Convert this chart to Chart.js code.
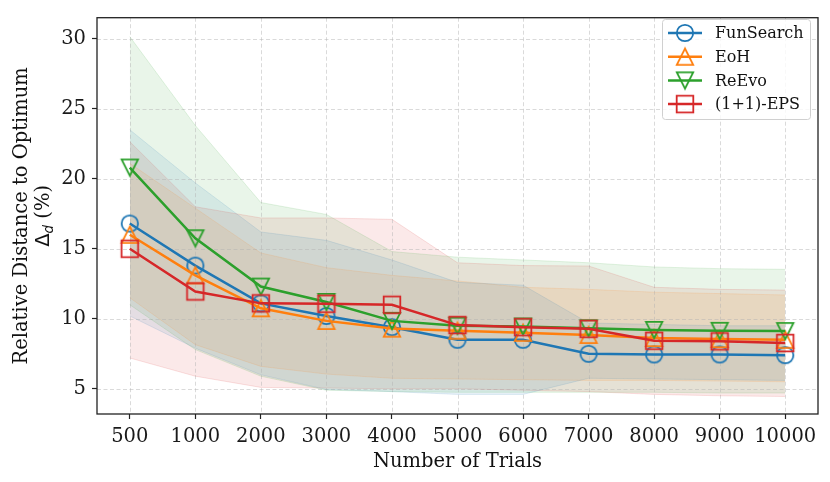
<!DOCTYPE html>
<html>
<head>
<meta charset="utf-8">
<script src="https://cdn.jsdelivr.net/npm/chart.js@4.4.1/dist/chart.umd.min.js"></script>
<style>
	html, body { margin: 0; padding: 0; background: #fff; }
	canvas { display: block; }
</style>
</head>
<body>
<canvas id="chart" width="830" height="482"></canvas>
<script>
var trials = ["500", "1000", "2000", "3000", "4000", "5000", "6000", "7000", "8000", "9000", "10000"];
var yTicks = [5, 10, 15, 20, 25, 30];

var funsearchMean  = [16.8, 13.8, 11.1, 10.2, 9.4, 8.5, 8.5, 7.5, 7.45, 7.45, 7.4];
var funsearchUpper = [23.5, 19.7, 16.2, 15.6, 14.2, 12.6, 12.4, 9.7, 9.6, 9.5, 9.5];
var funsearchLower = [10.2, 7.9, 6.0, 4.95, 4.8, 4.6, 4.6, 5.75, 5.7, 5.65, 5.6];

var eohMean  = [16.0, 13.1, 10.75, 9.85, 9.3, 9.15, 9.0, 8.85, 8.62, 8.55, 8.5];
var eohUpper = [21.1, 17.9, 14.7, 13.65, 13.1, 12.7, 12.25, 12.1, 11.9, 11.8, 11.7];
var eohLower = [11.5, 8.15, 6.6, 6.05, 5.75, 5.7, 5.65, 5.6, 5.6, 5.55, 5.5];

var reevoMean  = [20.8, 15.75, 12.3, 11.2, 9.85, 9.5, 9.45, 9.32, 9.2, 9.14, 9.12];
var reevoUpper = [30.15, 23.8, 18.3, 17.45, 14.8, 14.4, 14.2, 14.0, 13.7, 13.58, 13.53];
var reevoLower = [11.0, 7.8, 5.9, 4.9, 4.8, 4.75, 4.75, 4.75, 4.75, 4.7, 4.7];

var epsMean  = [15.0, 11.95, 11.1, 11.07, 11.0, 9.55, 9.4, 9.28, 8.43, 8.39, 8.27];
var epsUpper = [22.65, 18.0, 17.2, 17.2, 17.1, 14.0, 13.8, 13.77, 12.25, 12.1, 12.05];
var epsLower = [7.2, 5.9, 5.1, 5.05, 5.0, 5.0, 4.9, 4.8, 4.6, 4.5, 4.45];

var methods = [
	{name: "FunSearch",  rgb: "31,119,180", marker: "circle", mean: funsearchMean, upper: funsearchUpper, lower: funsearchLower},
	{name: "EoH",        rgb: "255,127,14", marker: "up",     mean: eohMean,       upper: eohUpper,       lower: eohLower},
	{name: "ReEvo",      rgb: "44,160,44",  marker: "down",   mean: reevoMean,     upper: reevoUpper,     lower: reevoLower},
	{name: "(1+1)-EPS",  rgb: "214,39,40",  marker: "square", mean: epsMean,       upper: epsUpper,       lower: epsLower}
];

var SERIF = '"DejaVu Serif", "Liberation Serif", serif';

//open matplotlib-like markers
function traceMarker(ctx, kind, x, y, s){
	ctx.beginPath();
	if (kind == "circle"){
		ctx.arc(x, y, s, 0, Math.PI * 2);
	}
	else if (kind == "up"){
		ctx.moveTo(x, y - s);
		ctx.lineTo(x - s, y + s);
		ctx.lineTo(x + s, y + s);
		ctx.closePath();
	}
	else if (kind == "down"){
		ctx.moveTo(x, y + s);
		ctx.lineTo(x - s, y - s);
		ctx.lineTo(x + s, y - s);
		ctx.closePath();
	}
	else {
		ctx.rect(x - s, y - s, 2 * s, 2 * s);
	}
}

function markerImage(kind, rgb){
	var c = document.createElement("canvas");
	c.width = 24; c.height = 24;
	var ctx = c.getContext("2d");
	ctx.strokeStyle = "rgb(" + rgb + ")";
	ctx.lineWidth = 1.8;
	traceMarker(ctx, kind, 12, 12, kind == "square" ? 8.3 : 8.2);
	ctx.stroke();
	return c;
}

var datasets = [];
var lineOrder = [3, 2, 1, 0];
methods.forEach(function(m, i){
	m.image = markerImage(m.marker, m.rgb);
	datasets.push({
		label: m.name,
		data: m.mean,
		borderColor: "rgb(" + m.rgb + ")",
		borderWidth: 2.5,
		pointStyle: m.image,
		pointRadius: 8,
		fill: false,
		order: lineOrder[i]
	});
});
methods.forEach(function(m){
	var lowerIndex = datasets.length + 1;
	datasets.push({
		label: m.name + " upper",
		data: m.upper,
		borderColor: "rgba(" + m.rgb + ",0.13)",
		backgroundColor: "rgba(" + m.rgb + ",0.1)",
		borderWidth: 1,
		pointRadius: 0,
		fill: lowerIndex,
		order: 10
	});
	datasets.push({
		label: m.name + " lower",
		data: m.lower,
		borderColor: "rgba(" + m.rgb + ",0.13)",
		borderWidth: 1,
		pointRadius: 0,
		fill: false,
		order: 10
	});
});

var decorPlugin = {
	id: "decor",
	//grid goes over the shaded bands but under the lines
	beforeDatasetsDraw: function(chart){
		var ctx = chart.ctx, a = chart.chartArea;
		var xs = chart.scales.x, ys = chart.scales.y;
		ctx.save();
		ctx.strokeStyle = "rgba(176,176,176,0.6)";
		ctx.lineWidth = 0.8;
		ctx.setLineDash([4, 2.5]);
		for (var i = 0; i < trials.length; i++){
			var x = Math.round(xs.getPixelForTick(i)) + 0.5;
			ctx.beginPath(); ctx.moveTo(x, a.top); ctx.lineTo(x, a.bottom); ctx.stroke();
		}
		for (var j = 0; j < yTicks.length; j++){
			var y = Math.round(ys.getPixelForValue(yTicks[j])) + 0.5;
			ctx.beginPath(); ctx.moveTo(a.left, y); ctx.lineTo(a.right, y); ctx.stroke();
		}
		ctx.restore();
	},
	afterDraw: function(chart){
		var ctx = chart.ctx, a = chart.chartArea;
		var titleFont = "19.5px " + SERIF;
		ctx.save();

		//spines
		ctx.strokeStyle = "#222";
		ctx.lineWidth = 1.3;
		ctx.strokeRect(a.left, a.top, a.right - a.left, a.bottom - a.top);

		//axis titles
		ctx.fillStyle = "#111";
		ctx.font = titleFont;
		ctx.textAlign = "center";
		ctx.textBaseline = "alphabetic";
		ctx.fillText("Number of Trials", (a.left + a.right) / 2, 467);

		var midY = (a.top + a.bottom) / 2;
		ctx.save();
		ctx.translate(27, midY);
		ctx.rotate(-Math.PI / 2);
		ctx.fillText("Relative Distance to Optimum", 0, 0);
		ctx.restore();

		ctx.save();
		ctx.translate(49, midY);
		ctx.rotate(-Math.PI / 2);
		ctx.textAlign = "left";
		var big = '19.5px "DejaVu Sans", sans-serif', sub = 'italic 13.5px "DejaVu Sans", sans-serif';
		ctx.font = big; var wD = ctx.measureText("\u0394").width;
		ctx.font = sub; var wd = ctx.measureText("d").width;
		ctx.font = titleFont; var wp = ctx.measureText(" (%)").width;
		var start = -(wD + wd + wp) / 2;
		ctx.font = big; ctx.fillText("\u0394", start, 0);
		ctx.font = sub; ctx.fillText("d", start + wD, 3.5);
		ctx.font = titleFont; ctx.fillText(" (%)", start + wD + wd, 0);
		ctx.restore();

		//legend
		var lx = 662, ly = 19, lw = 148, lh = 100;
		ctx.beginPath();
		ctx.roundRect(lx + 0.5, ly + 0.5, lw, lh, 3);
		ctx.fillStyle = "rgba(255,255,255,0.8)";
		ctx.fill();
		ctx.strokeStyle = "#d0d0d0";
		ctx.lineWidth = 1;
		ctx.stroke();

		ctx.font = "16px " + SERIF;
		ctx.textAlign = "left";
		ctx.textBaseline = "middle";
		methods.forEach(function(m, i){
			var ry = 33 + i * 23.7;
			ctx.strokeStyle = "rgb(" + m.rgb + ")";
			ctx.lineWidth = 2.5;
			ctx.beginPath(); ctx.moveTo(668, ry); ctx.lineTo(702, ry); ctx.stroke();
			ctx.drawImage(m.image, 685 - 12, ry - 12);
			ctx.fillStyle = "#111";
			ctx.fillText(m.name, 715, ry + 1);
		});

		ctx.restore();
	}
};

var chart = new Chart(document.getElementById("chart"), {
	type: "line",
	data: {labels: trials, datasets: datasets},
	options: {
		responsive: false,
		animation: false,
		layout: {padding: {top: 11, right: 12, left: 0, bottom: 0}},
		elements: {line: {tension: 0}},
		plugins: {
			legend: {display: false},
			tooltip: {enabled: false},
			filler: {drawTime: "beforeDatasetsDraw"}
		},
		scales: {
			x: {
				type: "category",
				offset: true,
				border: {display: false},
				grid: {display: true, drawOnChartArea: false, drawTicks: true, tickLength: 5, tickColor: "#222", tickWidth: 1.2},
				ticks: {color: "#1a1a1a", font: {family: SERIF, size: 19.5}, padding: 6, maxRotation: 0, autoSkip: false},
				afterFit: function(scale){ scale.height = 68; }
			},
			y: {
				type: "linear",
				min: 3.2,
				max: 31.5,
				border: {display: false},
				grid: {display: true, drawOnChartArea: false, drawTicks: true, tickLength: 5, tickColor: "#222", tickWidth: 1.2},
				ticks: {stepSize: 5, includeBounds: false, color: "#1a1a1a", font: {family: SERIF, size: 19.5}, padding: 6},
				afterFit: function(scale){ scale.width = 97; }
			}
		}
	},
	plugins: [decorPlugin]
});
</script>
</body>
</html>
